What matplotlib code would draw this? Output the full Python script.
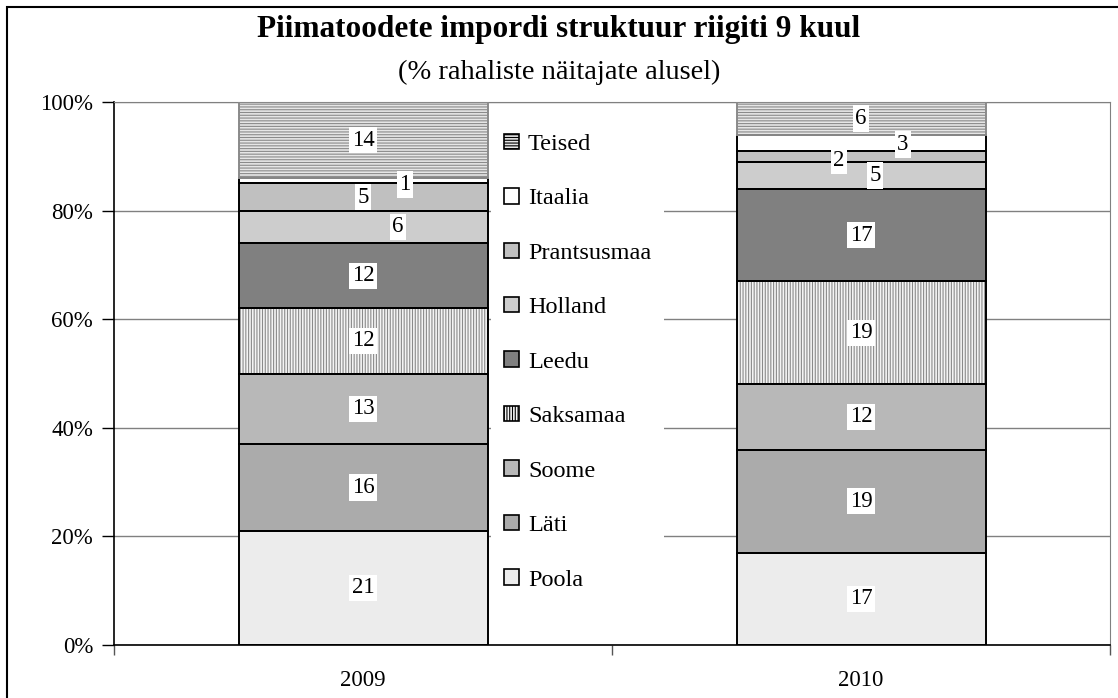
import matplotlib
matplotlib.use('Agg')
import matplotlib.pyplot as plt
from matplotlib.patches import Patch, Rectangle
from matplotlib.ticker import PercentFormatter
import numpy as np

# Data: import structure of dairy products by country, % of value
years = ['2009', '2010']
countries = ['Poola', 'Läti', 'Soome', 'Saksamaa', 'Leedu',
             'Holland', 'Prantsusmaa', 'Itaalia', 'Teised']
poola = [21, 17]
lati = [16, 19]
soome = [13, 12]
saksamaa = [12, 19]
leedu = [12, 17]
holland = [6, 5]
prantsusmaa = [5, 2]
itaalia = [1, 3]
teised = [14, 6]
values = [poola, lati, soome, saksamaa, leedu, holland, prantsusmaa, itaalia, teised]

# face colour, hatch, hatch colour, outline colour
styles = {
    'Poola':       ('#ececec', None, '#ececec', 'black'),
    'Läti':        ('#ababab', None, '#ababab', 'black'),
    'Soome':       ('#b8b8b8', None, '#b8b8b8', 'black'),
    'Saksamaa':    ('#f4f4f4', '||||||', '#8a8a8a', 'black'),
    'Leedu':       ('#808080', None, '#808080', 'black'),
    'Holland':     ('#cdcdcd', None, '#cdcdcd', 'black'),
    'Prantsusmaa': ('#c0c0c0', None, '#c0c0c0', 'black'),
    'Itaalia':     ('#ffffff', None, '#ffffff', 'black'),
    'Teised':      ('#e6e6e6', '------', '#8a8a8a', '#8a8a8a'),
}

# nudges (pixels) for labels of small, crowded segments
nudges = {
    ('Itaalia', 0): (42, -4),
    ('Holland', 0): (35, 0),
    ('Itaalia', 1): (42, -2),
    ('Prantsusmaa', 1): (-22, -4),
    ('Holland', 1): (14, 0),
}

FS = 16.5
LEG_FS = 17.5

plt.rcParams['font.family'] = ['Liberation Serif', 'DejaVu Serif']
plt.rcParams['hatch.linewidth'] = 0.8

fig = plt.figure(figsize=(11.18, 6.98), dpi=100)
ax = fig.add_axes([114 / 1118, 53 / 698, 996 / 1118, 543 / 698])

x = np.arange(len(years))
bottom = np.zeros(len(years))
for name, vals in zip(countries, values):
    face, hatch, hcol, edge = styles[name]
    vals = np.array(vals, dtype=float)
    ax.bar(x, vals, 0.5, bottom=bottom, color=face, hatch=hatch,
           edgecolor=hcol, linewidth=0, zorder=2)
    ax.bar(x, vals, 0.5, bottom=bottom, fill=False, edgecolor=edge,
           linewidth=1.4, zorder=3)
    for i, v in enumerate(vals):
        dx, dy = nudges.get((name, i), (0, 0))
        ax.annotate(f'{v:.0f}', xy=(x[i], bottom[i] + v / 2), xytext=(dx, dy),
                    textcoords='offset pixels', ha='center', va='center',
                    fontsize=FS, zorder=5,
                    bbox=dict(boxstyle='square,pad=0.12', fc='white', ec='none'))
    bottom += vals

ax.set_xlim(-0.5, 1.5)
ax.set_ylim(0, 100)
ax.set_yticks(np.arange(0, 101, 20))
ax.yaxis.set_major_formatter(PercentFormatter(decimals=0))
ax.set_xticks(x)
ax.set_xticklabels(years)
ax.set_xticks([-0.5, 0.5, 1.5], minor=True)
ax.tick_params(axis='x', which='major', length=0, pad=18, labelsize=FS)
ax.tick_params(axis='x', which='minor', length=7, width=1, color='#555555')
ax.tick_params(axis='y', length=9, width=1, labelsize=FS, pad=6)
ax.grid(axis='y', color='#808080', linewidth=1)
ax.set_axisbelow(True)

for side in ['top', 'right']:
    ax.spines[side].set_color('#808080')
ax.spines['left'].set_color('black')
ax.spines['bottom'].set_color('black')
ax.spines['left'].set_linewidth(1.2)
ax.spines['bottom'].set_linewidth(1.2)

# legend, top entry = Teised
handles = [Patch(facecolor=styles[n][0], hatch=styles[n][1], edgecolor='black',
                 linewidth=1.2) for n in countries[::-1]]
ax.legend(handles, countries[::-1], loc='center left', bbox_to_anchor=(0.366, 0.521),
          frameon=True, facecolor='white', edgecolor='none', framealpha=1,
          fancybox=False, labelspacing=1.365, handlelength=0.6, handleheight=0.6,
          handletextpad=0.38, fontsize=LEG_FS, borderpad=0.55, borderaxespad=0.5)

fig.text(0.5, 1 - 30 / 698, 'Piimatoodete impordi struktuur riigiti 9 kuul',
         ha='center', va='center', fontsize=22.5, fontweight='bold')
fig.text(0.5, 1 - 72 / 698, '(% rahaliste näitajate alusel)',
         ha='center', va='center', fontsize=20.5)

# outer chart frame
fig.patches.append(Rectangle((7 / 1118, -0.1), 1.2, 1 - 7 / 698 + 0.1,
                             transform=fig.transFigure, fill=False,
                             edgecolor='black', linewidth=1.5))

fig.savefig('out.png', dpi=100)
